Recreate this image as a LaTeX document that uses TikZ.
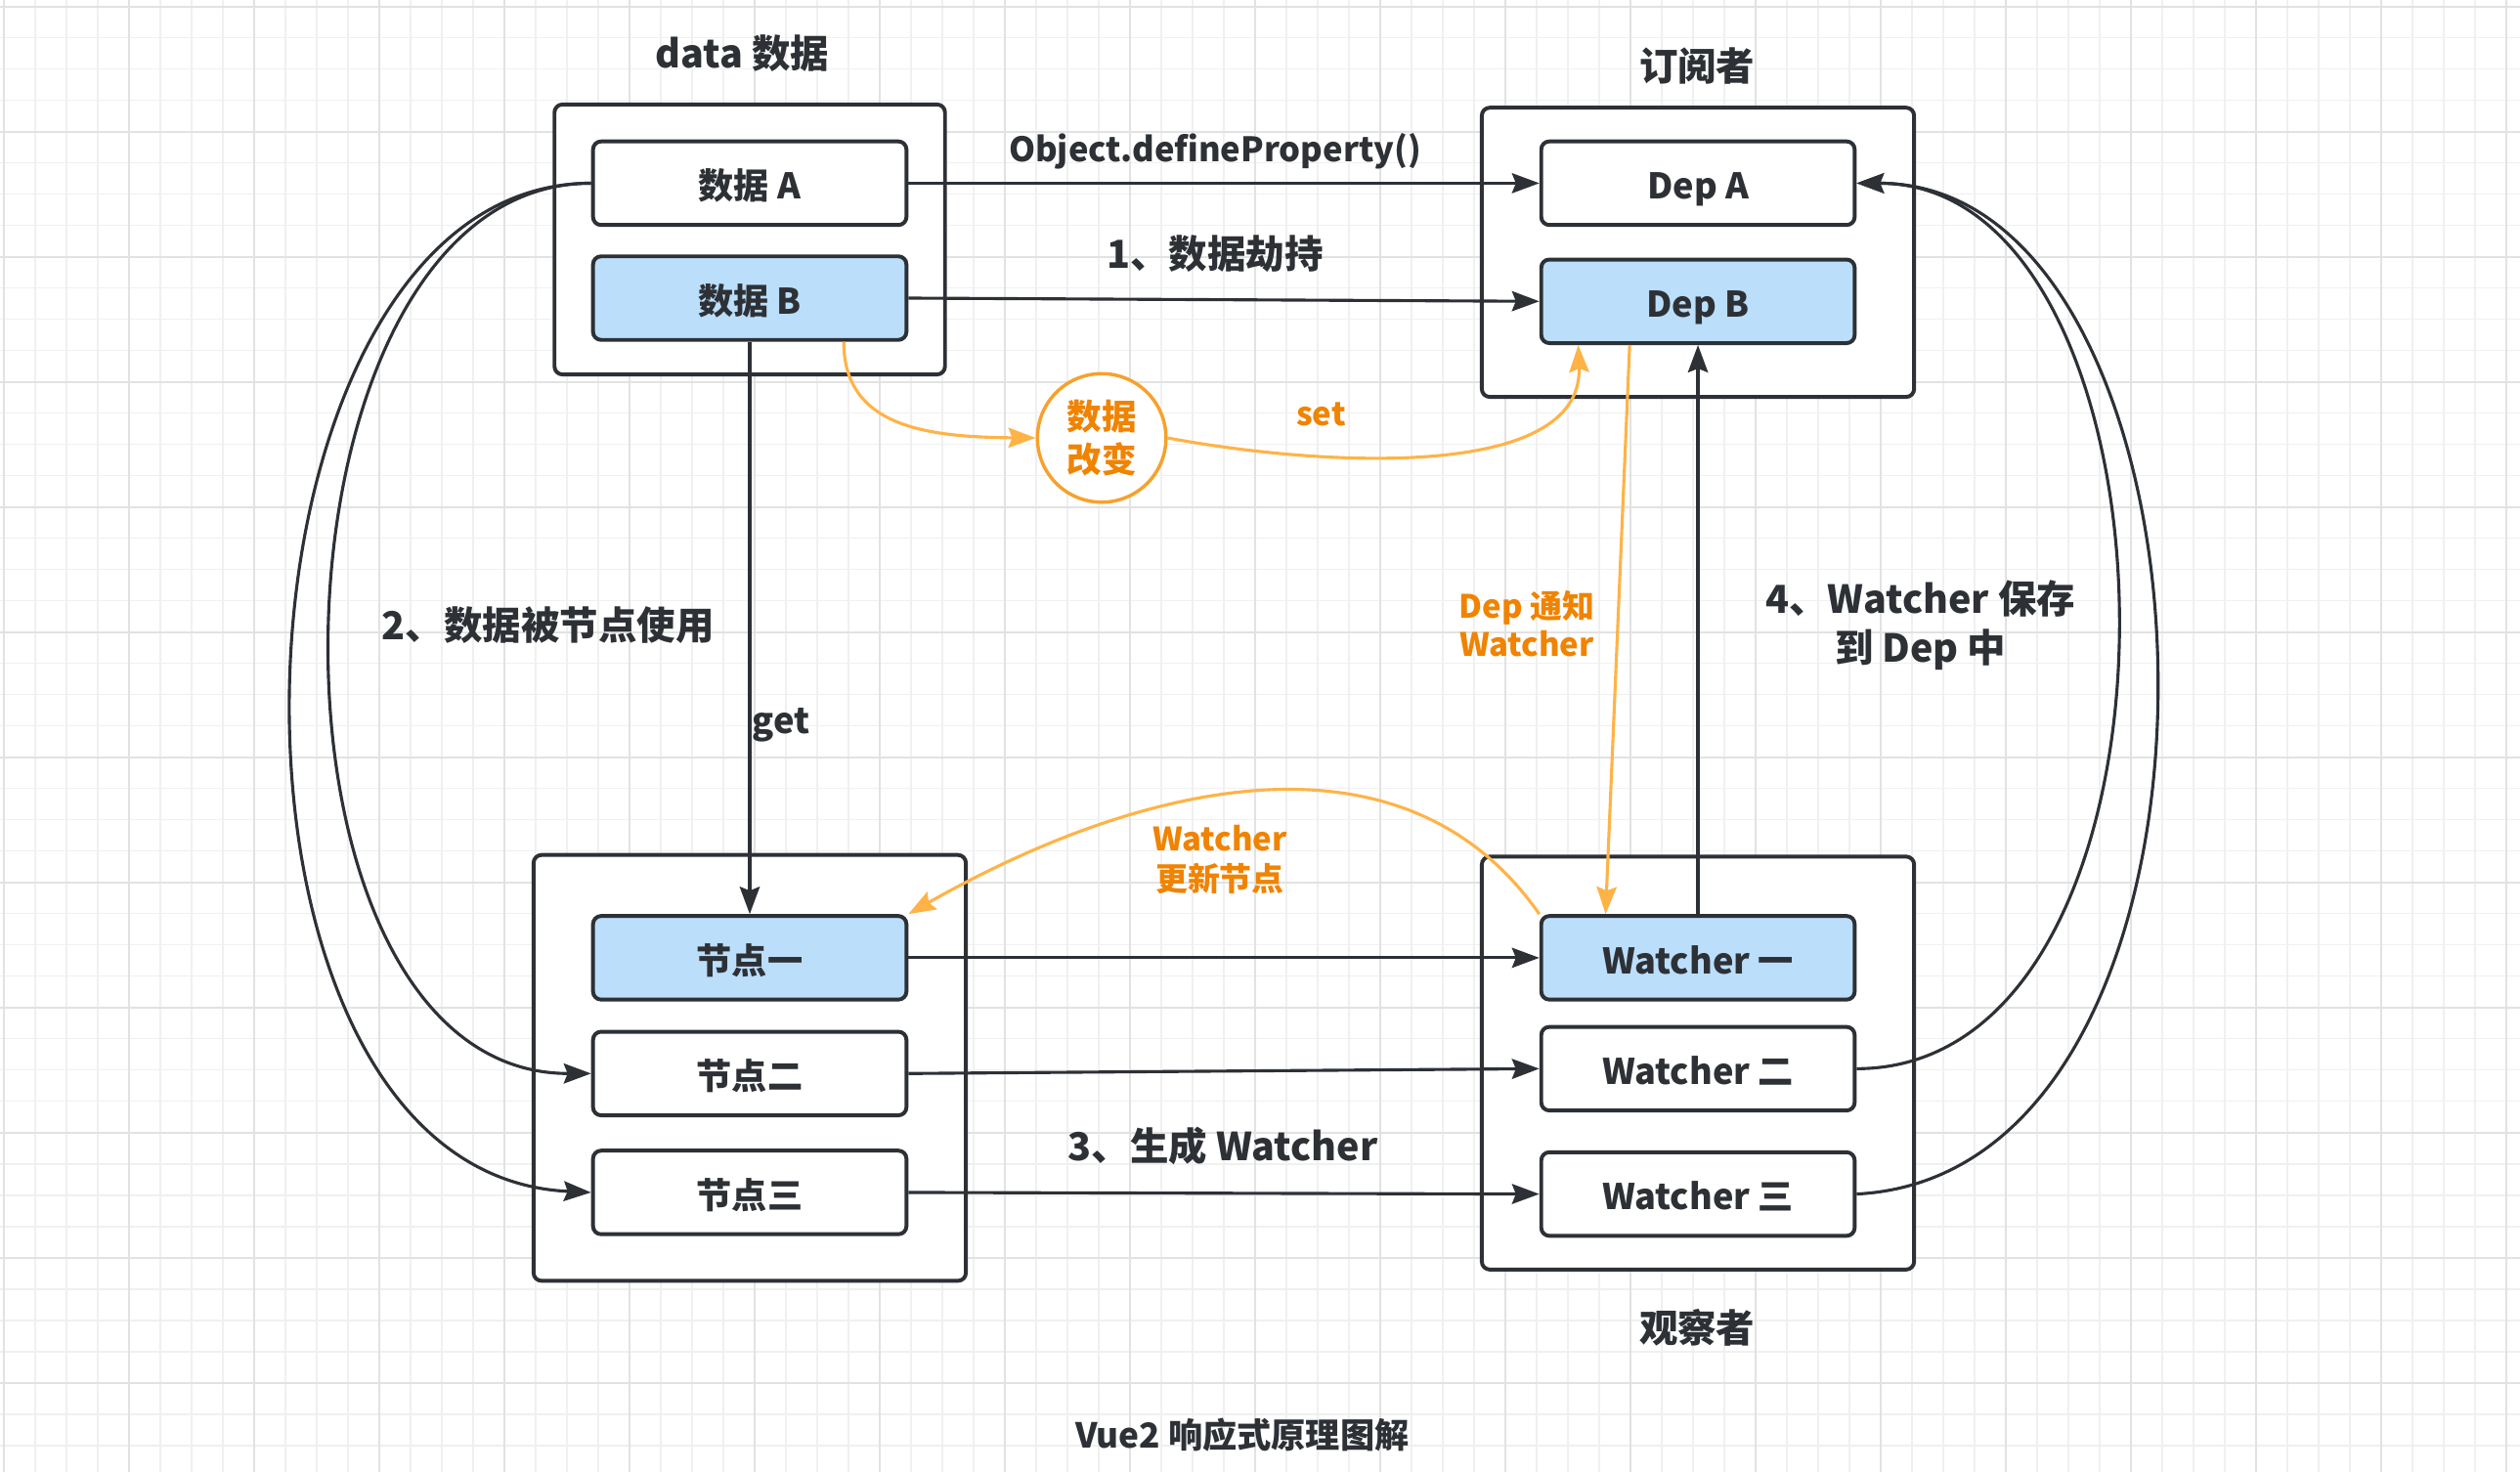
\documentclass[tikz,border=0pt]{standalone}
\usepackage{fontspec}
\setmainfont{Noto Sans CJK SC}
\usetikzlibrary{arrows.meta,calc}
\definecolor{ink}{HTML}{2D3136}
\definecolor{boxblue}{HTML}{BBDEFB}
\definecolor{otext}{HTML}{F08300}
\definecolor{oline}{HTML}{FFB347}
\definecolor{ocirc}{HTML}{F7A12B}
\definecolor{gridminor}{HTML}{F0F0F0}
\definecolor{gridmajor}{HTML}{E2E2E2}
\tikzset{
  container/.style={draw=ink, line width=1.2pt, rounded corners=2.5pt, fill=white, inner sep=0pt},
  itembox/.style={draw=ink, line width=1.2pt, rounded corners=2.5pt, fill=white,
    minimum width=97.5pt, minimum height=26pt, inner sep=0pt,
    text height=10pt, text depth=0.2pt,
    font=\bfseries\fontsize{11}{13}\selectfont, text=ink},
  bluebox/.style={itembox, fill=boxblue},
  lbl/.style={font=\bfseries\fontsize{12}{15}\selectfont, text=ink, inner sep=0pt, align=center},
  olbl/.style={font=\bfseries\fontsize{10}{12}\selectfont, text=otext, inner sep=0pt, align=center},
  hdr/.style={font=\bfseries\fontsize{12}{14}\selectfont, text=ink, inner sep=0pt},
  conn/.style={draw=ink, line width=0.95pt, -{Stealth[length=8.5pt,width=6.2pt,inset=1.2pt]}},
  oconn/.style={draw=oline, line width=0.95pt, -{Stealth[length=8.5pt,width=6.2pt,inset=1.2pt]}},
}
\begin{document}
\begin{tikzpicture}[x=0.5pt,y=-0.5pt]
\useasboundingbox (0,0) rectangle (1568,916);
\fill[white] (0,0) rectangle (1568,916);
% grid
\begin{scope}
\clip (0,0) rectangle (1568,916);
\foreach \i in {0,...,80} {
  \pgfmathsetmacro\gx{2.43+19.464*\i}
  \draw[gridminor, line width=0.45pt] (\gx,0) -- (\gx,916);
}
\foreach \i in {0,...,47} {
  \pgfmathsetmacro\gy{4.07+19.464*\i}
  \draw[gridminor, line width=0.45pt] (0,\gy) -- (1568,\gy);
}
\foreach \i in {0,4,...,80} {
  \pgfmathsetmacro\gx{2.43+19.464*\i}
  \draw[gridmajor, line width=0.5pt] (\gx,0) -- (\gx,916);
}
\foreach \i in {0,4,...,44} {
  \pgfmathsetmacro\gy{4.07+19.464*\i}
  \draw[gridmajor, line width=0.5pt] (0,\gy) -- (1568,\gy);
}
\end{scope}

% containers
\node[container, minimum width=121.5pt, minimum height=84pt] (dataC) at (466.5,149) {};
\node[container, minimum width=134.5pt, minimum height=90pt] (depC) at (1056.5,157) {};
\node[container, minimum width=134.5pt, minimum height=132.5pt] (nodeC) at (466.5,664.5) {};
\node[container, minimum width=134.5pt, minimum height=128.5pt] (watchC) at (1056.5,661.5) {};

% headers
\node[hdr] (hData) at (462,33) {data 数据};
\node[hdr] (hDep) at (1056,41) {订阅者};
\node[hdr] (hWatch) at (1056,826) {观察者};
\node[hdr, font=\bfseries\fontsize{10.7}{13}\selectfont] (hTitle) at (773,893) {Vue2 响应式原理图解};

% boxes
\node[itembox] (dA) at (466.5,114) {数据 A};
\node[bluebox] (dB) at (466.5,185.5) {数据 B};
\node[itembox] (depA) at (1056.5,114) {Dep A};
\node[bluebox] (depB) at (1056.5,187.5) {Dep B};
\node[bluebox] (n1) at (466.5,596) {节点一};
\node[itembox] (n2) at (466.5,668) {节点二};
\node[itembox] (n3) at (466.5,742) {节点三};
\node[bluebox] (w1) at (1056.5,596) {Watcher 一};
\node[itembox] (w2) at (1056.5,665) {Watcher 二};
\node[itembox] (w3) at (1056.5,743) {Watcher 三};

\node[circle, draw=ocirc, line width=1.05pt, fill=white, minimum size=40pt, inner sep=0pt,
  font=\bfseries\fontsize{10.8}{13.5}\selectfont, text=otext, align=center] (circ) at (685.5,272.5) {数据\\改变};

% black connectors
\draw[conn] (dA.east) -- (depA.west);
\draw[conn] (dB.east) -- (depB.west);
\draw[conn] (dB.south) -- (n1.north);
\draw[conn] (w1.north) -- (depB.south);
\draw[conn] (n1.east) -- (w1.west);
\draw[conn] (n2.east) -- (w2.west);
\draw[conn] (n3.east) -- (w3.west);
\draw[conn] (dA.west) .. controls (157,114) and (147,668) .. (n2.west);
\draw[conn] (dA.west) .. controls (130,114) and (110,730) .. (n3.west);
\draw[conn] (w2.east) .. controls (1376,665) and (1366,114) .. (depA.east);
\draw[conn] (w3.east) .. controls (1413,730) and (1393,114) .. (depA.east);

% orange connectors
\draw[oconn] ([xshift=29.25pt]dB.south) .. controls (525,265) and (575,272) .. (circ.west);
\draw[oconn] (circ.east) .. controls (820,290) and (985,300) .. ([xshift=-37.25pt]depB.south);
\draw[oconn] ([xshift=-21.25pt]depB.south) -- ([xshift=-28.75pt]w1.north);
\draw[oconn] (w1.north west) .. controls (870,443) and (700,492) .. (n1.north east);

% labels
\node[lbl, font=\bfseries\fontsize{10.5}{13}\selectfont] (lObj) at (756,94) {Object.defineProperty()};
\node[lbl] (l1) at (756,158) {1、数据劫持};
\node[lbl] (l2) at (341,389) {2、数据被节点使用};
\node[lbl, font=\bfseries\fontsize{11}{13}\selectfont] (lget) at (486,451) {get};
\node[lbl] (l3) at (761,713) {3、生成 Watcher};
\node[lbl] (l4) at (1195,389) {4、Watcher 保存\\到 Dep 中};
\node[olbl] (lset) at (822,258) {set};
\node[olbl] (lnotify) at (950,388) {Dep 通知\\Watcher};
\node[olbl, font=\bfseries\fontsize{10}{12.5}\selectfont] (lupdate) at (759,535) {Watcher\\更新节点};
\end{tikzpicture}
\end{document}
